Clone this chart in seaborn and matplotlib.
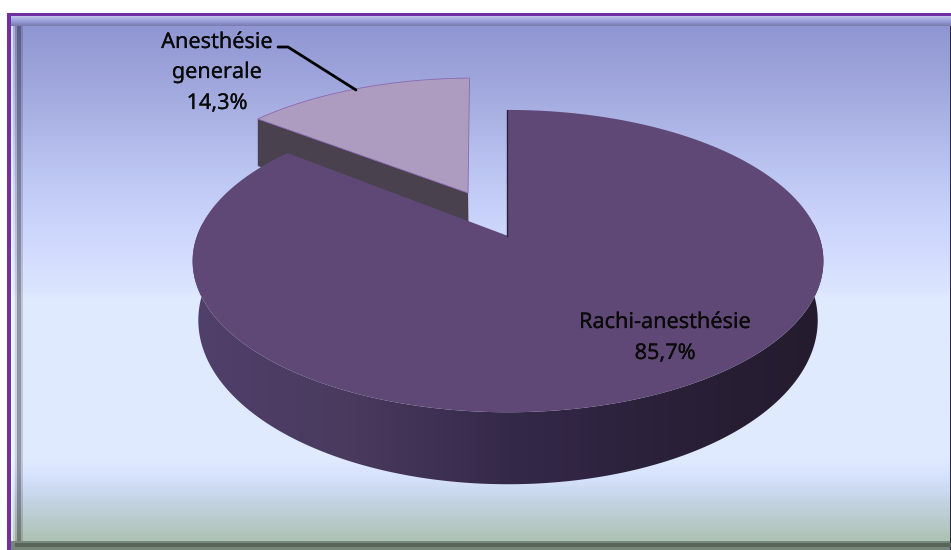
import numpy as np
import matplotlib
matplotlib.use("Agg")
import matplotlib.pyplot as plt
import matplotlib.patheffects as pe
from matplotlib.colors import LinearSegmentedColormap
from matplotlib.patches import Polygon
import seaborn as sns

# Data
labels = ["Rachi-anesthésie", "Anesthésie\ngenerale"]
shares = [85.7, 14.3]

# Projection of the tilted disc, in pixels
APEX_X, APEX_Y = 508, 236
RADIUS_X, RADIUS_Y = 311, 147
TILT = 0.166
EXPLODE = (-0.135, 0.3075)
SMALL_TURN = np.radians(0.9)

# Background stops: (y in pixels, colour)
BG_TOP, BG_BOTTOM = 26, 541
bg_stops = [(26, "#9096d2"), (100, "#a5ace0"), (173, "#bcc6f2"), (230, "#cdd6fc"),
            (292, "#dce5fe"), (297, "#e0eaff"), (460, "#e0eaff"), (478, "#d6e2fd"),
            (500, "#c5d4e6"), (541, "#aec2b4")]

sns.set_theme(style="white")
plt.rcParams["font.family"] = ["Noto Sans", "DejaVu Sans"]


def project(u, v):
    w = 1 + TILT * v
    return APEX_X + RADIUS_X * u / w, APEX_Y - RADIUS_Y * v / w


def rim(theta, offset=(0, 0)):
    # theta runs counter-clockwise from the top of the disc
    return project(offset[0] - np.sin(theta), offset[1] + np.cos(theta))


def drop(x, y):
    # where a point of the top face ends up on the bottom face
    depth = 57 - 12.5 * (APEX_Y - y) / RADIUS_Y
    return APEX_X + 1 + (x - APEX_X - 1) * 0.982, y + depth


def gradient(ax, colors, extent, vertical=True, clip=None, zorder=0):
    cmap = LinearSegmentedColormap.from_list("g", colors)
    ramp = np.linspace(0, 1, 512)
    ramp = ramp[:, None] if vertical else ramp[None, :]
    img = ax.imshow(ramp, cmap=cmap, extent=extent, aspect="auto", zorder=zorder,
                    interpolation="bilinear", origin="upper")
    if clip is not None:
        ax.add_patch(clip)
        img.set_clip_path(clip)
    return img


def band(ax, x0, x1, y0, y1, color, alpha=1.0, zorder=0.5):
    ax.add_patch(Polygon([(x0, y0), (x1, y0), (x1, y1), (x0, y1)], fc=color, ec="none",
                         alpha=alpha, zorder=zorder))


fig = plt.figure(figsize=(9.51, 5.5), dpi=100, facecolor="white")
ax = fig.add_axes([0, 0, 1, 1])

# Frame and background, from the outside in
band(ax, 7, 951, 13, 550, "#7030a0", zorder=0)
gradient(ax, ["#c4c8ea", "#a6abe2", "#8f95cf", "#757aa8"], (11, 951, 26, 16), zorder=0.1)
span = BG_BOTTOM - BG_TOP
stops = [((y - BG_TOP) / span, c) for y, c in bg_stops]
gradient(ax, stops, (11, 950, BG_BOTTOM, BG_TOP), zorder=0.3)
band(ax, 11, 951, 541, 550, "#76867a")
band(ax, 15, 951, 543, 547, "#586558", zorder=0.6)
band(ax, 950, 951, 26, 550, "#2a2838")
# left bevel, lighter and darker strips over the background
for x0, x1, tint, alpha in [(11, 12.7, "white", 0.7), (12.7, 15, "white", 0.2), (15, 17.3, "black", 0.1),
                            (17.3, 21.3, "black", 0.36), (21.3, 22.7, "black", 0.14)]:
    band(ax, x0, x1, 26, 541, tint, alpha)

big_sweep = np.radians(shares[0] / sum(shares) * 360)
small_sweep = np.radians(shares[1] / sum(shares) * 360)

# Exploded small slice
th = np.linspace(0, small_sweep, 60) + SMALL_TURN
sx, sy = rim(th, EXPLODE)
ax0, ay0 = project(*EXPLODE)
bx, by = drop(np.array([sx[-1], ax0]), np.array([sy[-1], ay0]))
ax.add_patch(Polygon([(sx[-1], sy[-1]), (ax0, ay0), (bx[1], by[1]), (sx[-1], by[0])],
                     fc="#4a414f", ec="none", zorder=2))
ax.add_patch(Polygon(np.r_[[(ax0, ay0)], np.c_[sx, sy]], fc="#ae9cc0", ec="#8a68b0", lw=0.6, zorder=3))

# Wall of the big slice
th = np.linspace(np.radians(85), np.radians(275), 200)
tx, ty = rim(th)
bx, by = drop(tx, ty)
wall = Polygon(np.r_[np.c_[tx, ty], np.c_[bx, by][::-1]], fc="none", ec="none", zorder=4)
gradient(ax, ["#51406b", "#493a5e", "#35294a", "#2a2038", "#241b2e"], (190, 830, 490, 100),
         vertical=False, clip=wall, zorder=4)

# Top face of the big slice
th = small_sweep + np.linspace(0, big_sweep, 300)
tx, ty = rim(th)
ax.add_patch(Polygon(np.r_[[(APEX_X, APEX_Y)], np.c_[tx, ty]], fc="#5f4875", ec="none", zorder=5))
ex, ey = rim(np.array([0.0]))
ax.plot([APEX_X - 1, ex[0] - 1], [APEX_Y, ey[0]], color="#2a2038", lw=1.0, zorder=5)

# Labels
text_style = dict(ha="center", va="baseline", fontsize=15.6, color="#0a0a0a", zorder=6,
                  path_effects=[pe.withStroke(linewidth=0.15, foreground="#0a0a0a")])
ax.text(665, 328, labels[0], **text_style)
ax.text(665, 359, f"{shares[0]:.1f}%".replace(".", ","), **text_style)
for y, line in zip([48, 78], labels[1].split("\n")):
    ax.text(217, y, line, **text_style)
ax.text(217, 109, f"{shares[1]:.1f}%".replace(".", ","), **text_style)
ax.plot([278, 288, 356], [47, 47, 90], color="black", lw=2, solid_joinstyle="miter", zorder=6)

ax.set_xlim(0, 951)
ax.set_ylim(550, 0)
ax.axis("off")

plt.savefig("out.png", dpi=100)
plt.close()
